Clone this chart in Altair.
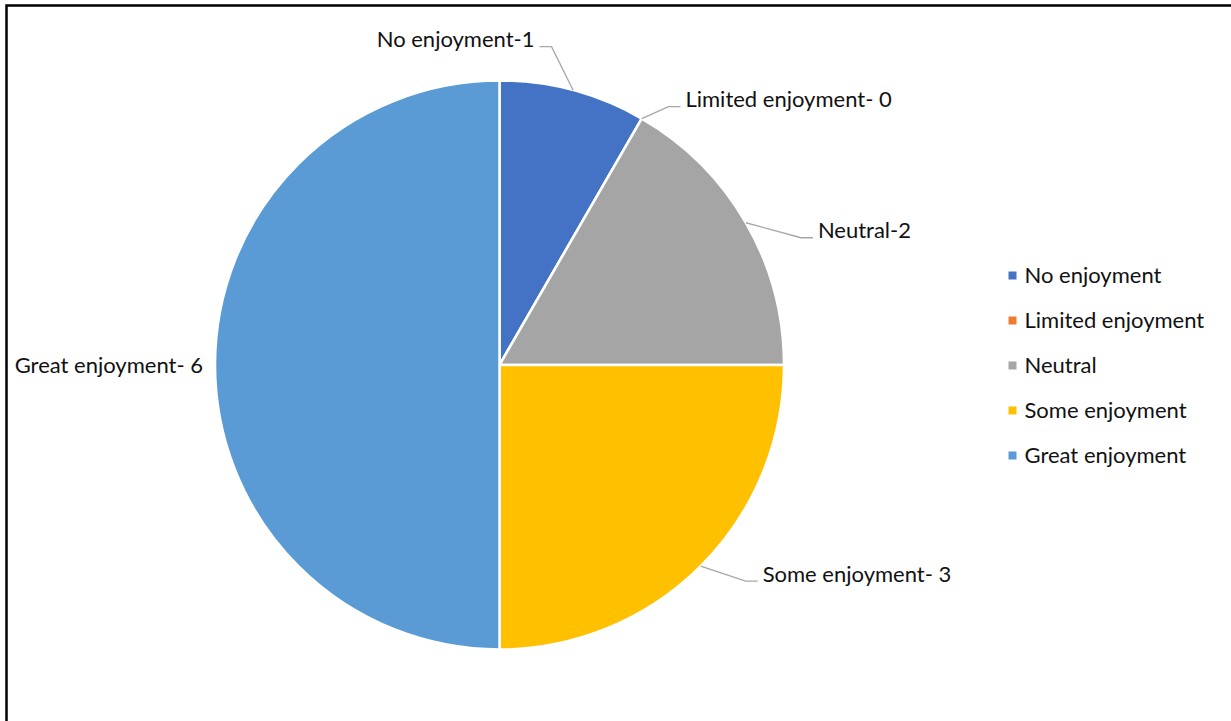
import math
import altair as alt
import pandas as pd

# ---- data ----
categories = ["No enjoyment", "Limited enjoyment", "Neutral", "Some enjoyment", "Great enjoyment"]
counts = [1, 0, 2, 3, 6]
label_texts = ["No enjoyment-1", "Limited enjoyment- 0", "Neutral-2", "Some enjoyment- 3", "Great enjoyment- 6"]
colors = ["#4472C4", "#ED7D31", "#A5A5A5", "#FFC000", "#5B9BD5"]

# ---- layout ----
W, H = 1231, 721
CX, CY, R = 499.5, 365.0, 284.5
FONT = "Lato"
FS = 22
# leader elbow offsets relative to the slice edge point, and text side
leader_layout = {
    "No enjoyment": (-21.6, -43.5, "left"),
    "Limited enjoyment": (26.7, -12.0, "right"),
    "Neutral": (55.0, 15.0, "right"),
    "Some enjoyment": (45.0, 15.0, "right"),
    "Great enjoyment": (None, None, "left"),
}
TAIL = 12
GAP = 5

total = sum(counts)
pie_df = pd.DataFrame({"category": categories, "count": counts, "idx": list(range(len(categories)))})

line_rows, text_rows = [], []
cum = 0
for cat, v, lab in zip(categories, counts, label_texts):
    mid = (cum + v / 2) / total * 2 * math.pi
    cum += v
    ex = CX + R * math.sin(mid)
    ey = CY - R * math.cos(mid)
    dx, dy, side = leader_layout[cat]
    if dx is None:
        text_rows.append({"x": ex - TAIL, "y": ey + 8, "text": lab, "side": side})
        continue
    bx, by = ex + dx, ey + dy
    sgn = 1 if side == "right" else -1
    tx = bx + sgn * TAIL
    line_rows += [
        {"category": cat, "o": 0, "x": ex, "y": ey},
        {"category": cat, "o": 1, "x": bx, "y": by},
        {"category": cat, "o": 2, "x": tx, "y": by},
    ]
    text_rows.append({"x": tx + sgn * GAP, "y": by + 0.5, "text": lab, "side": side})

lines_df = pd.DataFrame(line_rows)
text_df = pd.DataFrame(text_rows)

xs = alt.Scale(domain=[0, W], range=[0, W])
ys = alt.Scale(domain=[0, H], range=[0, H])

pie = alt.Chart(pie_df).mark_arc(radius=R, stroke="white", strokeWidth=2.5).encode(
    theta=alt.Theta("count:Q", stack=True),
    color=alt.Color(
        "category:N",
        scale=alt.Scale(domain=categories, range=colors),
        sort=categories,
        legend=alt.Legend(
            title=None,
            orient="none",
            legendX=1001.5,
            legendY=264.5,
            symbolType="square",
            symbolSize=64,
            symbolStrokeWidth=0,
            labelFont=FONT,
            labelFontSize=FS,
            labelColor="#111111",
            labelOffset=1,
            rowPadding=23,
            labelLimit=400,
        ),
    ),
    order=alt.Order("idx:Q"),
    x=alt.value(CX),
    y=alt.value(CY),
)

leaders = alt.Chart(lines_df).mark_line(color="#A6A6A6", strokeWidth=1.3).encode(
    x=alt.X("x:Q", scale=xs, axis=None),
    y=alt.Y("y:Q", scale=ys, axis=None),
    detail="category:N",
    order="o:Q",
)

def text_layer(side, align):
    return alt.Chart(text_df).transform_filter(alt.datum.side == side).mark_text(
        align=align, baseline="alphabetic", font=FONT, fontSize=FS, color="#111111"
    ).encode(
        x=alt.X("x:Q", scale=xs, axis=None),
        y=alt.Y("y:Q", scale=ys, axis=None),
        text="text:N",
    )

border = alt.Chart(pd.DataFrame({"a": [0]})).mark_rect(
    fill=None, stroke="#000000", strokeWidth=2.5
).encode(x=alt.value(6.5), y=alt.value(5.5), x2=alt.value(W + 20), y2=alt.value(H + 20))

chart = alt.layer(border, pie, leaders, text_layer("left", "right"), text_layer("right", "left")).properties(
    width=W, height=H, padding=0, autosize=alt.AutoSizeParams(type="none"), background="white"
).configure_view(stroke=None)

chart.save("out.html", embed_options={"renderer": "svg", "actions": False})
